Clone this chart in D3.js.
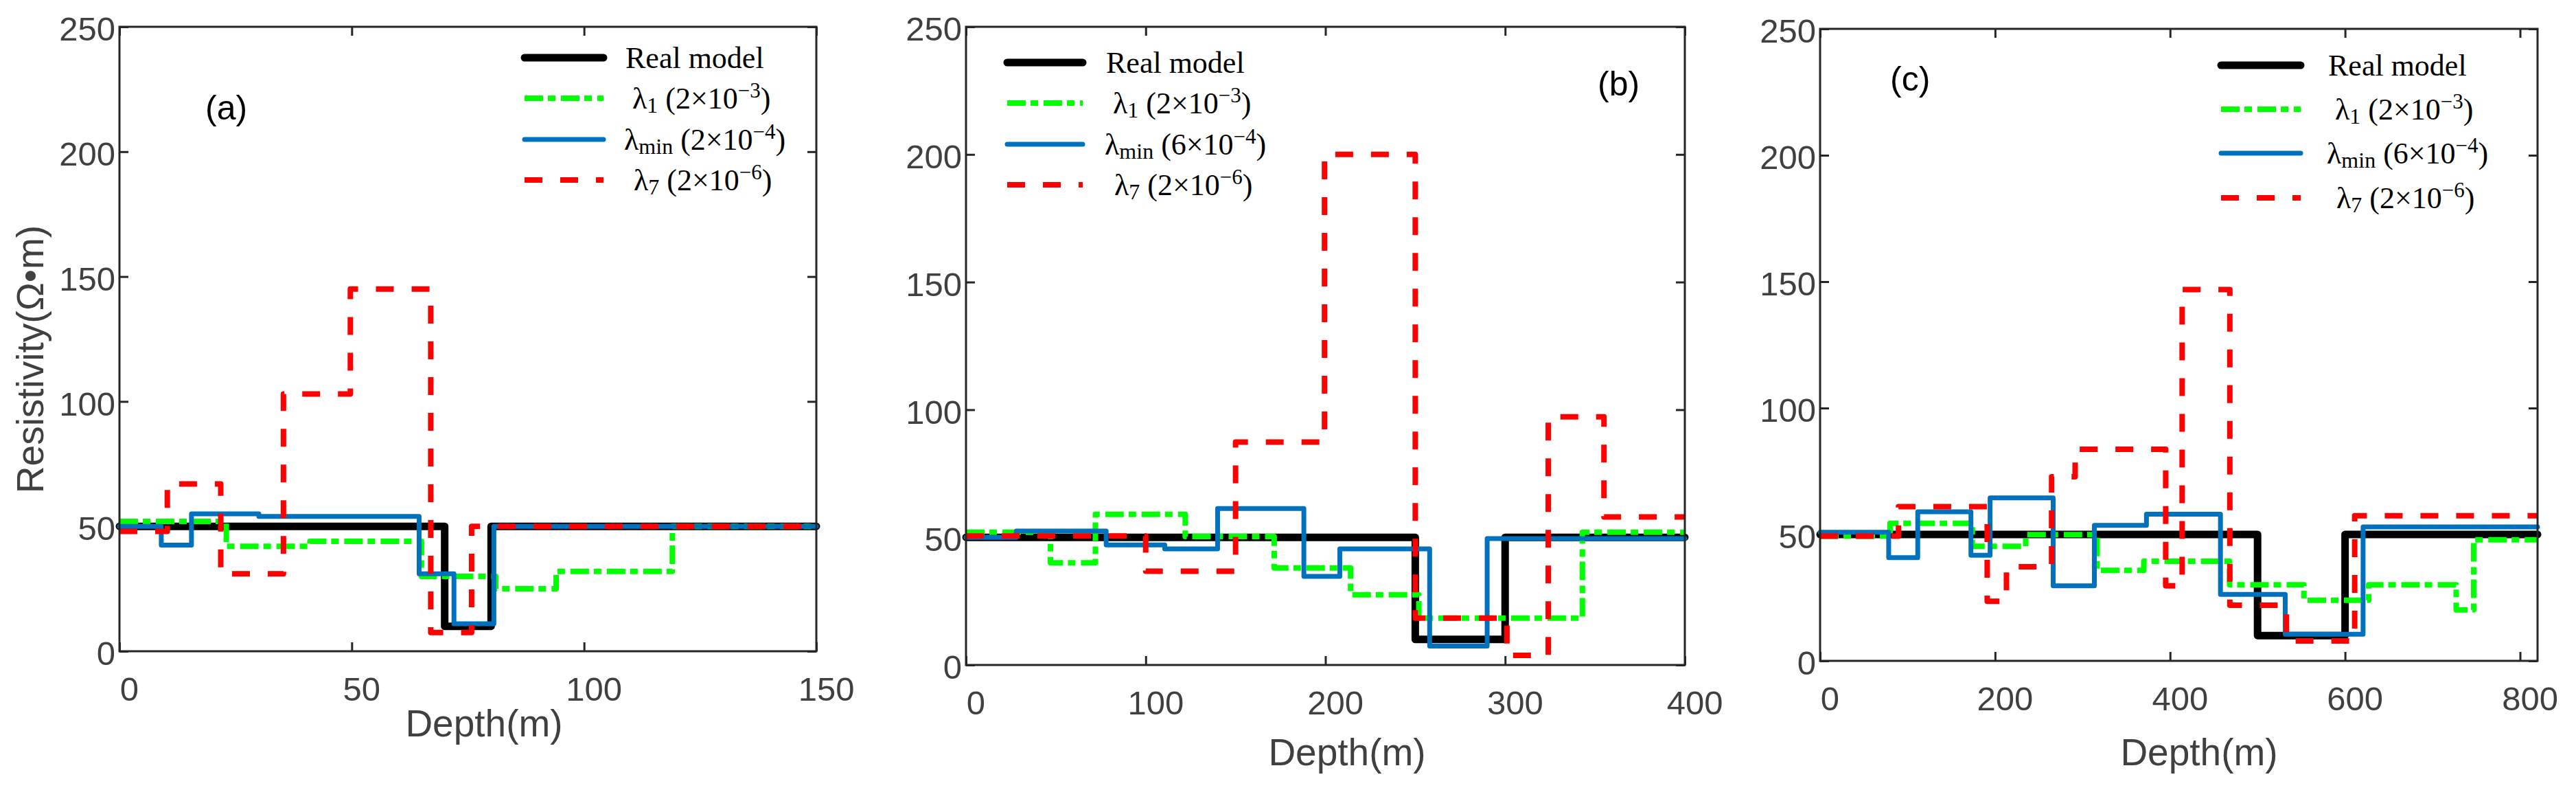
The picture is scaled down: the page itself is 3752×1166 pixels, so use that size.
<!DOCTYPE html>
<html>
<head>
<meta charset="utf-8">
<script src="https://cdn.jsdelivr.net/npm/d3@7"></script>
<style>
  body { margin: 0; background: #fff; }
  svg { display: block; }
</style>
</head>
<body>
<svg id="chart"></svg>
<script>
// tick values
const yTicks = [0, 50, 100, 150, 200, 250];
const xTicksA = [0, 50, 100, 150];
const xTicksB = [0, 100, 200, 300, 400];
const xTicksC = [0, 200, 400, 600, 800];

// layer boundaries (m) and layer resistivity (ohm.m)
// (a)
const depthRealA = [0, 70, 80, 150];
const rhoRealA = [50, 10, 50];
const depthL1A = [0, 23, 41, 65, 81, 94, 119, 150];
const rhoL1A = [52, 42, 44, 30, 25, 32, 50];
const depthMinA = [0, 9, 15.5, 30, 64.5, 72, 80.6, 150];
const rhoMinA = [50, 42.5, 55, 54, 31, 11, 50];
const depthL7A = [0, 10.3, 21.8, 35.3, 49.7, 67, 75.8, 150];
const rhoL7A = [48, 67, 31, 103, 145, 7.5, 50];

// (b)
const depthRealB = [0, 250, 300, 400];
const rhoRealB = [50, 10, 50];
const depthL1B = [0, 47, 72, 122, 171.5, 214, 252, 343, 400];
const rhoL1B = [52, 40, 59, 50.3, 38, 27.5, 18.4, 52];
const depthMinB = [0, 28, 78, 110.6, 140, 188, 208, 258, 290, 400];
const rhoMinB = [50, 52.5, 47, 45.5, 61.3, 34.7, 45.5, 7.4, 49.5];
const depthL7B = [0, 100, 150, 199.5, 250, 301, 324, 355, 400];
const rhoL7B = [50.5, 36.7, 87.3, 200, 18.4, 3.8, 97.2, 58];

// (c)
const depthRealC = [0, 500, 600, 820];
const rhoRealC = [50, 10, 50];
const depthL1C = [0, 80, 174, 235, 316.6, 370, 468, 553, 627, 727, 747, 820];
const rhoL1C = [49.3, 54.4, 45.3, 49.9, 35.8, 39.4, 30.1, 24, 30.1, 20.2, 47.9];
const depthMinC = [0, 78.4, 111.6, 172.4, 194.3, 266.4, 313.5, 373, 457.6, 531.6, 620.6, 820];
const rhoMinC = [50.9, 40.8, 59, 41.8, 64.5, 29.7, 53.6, 58, 26.3, 10.5, 53];
const depthL7C = [0, 89.6, 191, 213, 264.6, 291.5, 395, 413.8, 468.3, 533, 611, 820];
const rhoL7C = [49.3, 61, 23.6, 37.2, 72.8, 83.7, 29.7, 146.9, 22, 7.9, 57.4];

// legend entries
const lambdaSubs = ['1', 'min', '7'];
const legendMantA = [2, 2, 2];
const legendMantB = [2, 6, 2];
const legendMantC = [2, 6, 2];
const legendExp = [-3, -4, -6];

const seriesStyles = [
    { color: '#000000', width: 11, dash: null },
    { color: '#00ff00', width: 8, dash: '27,7,11,8' },
    { color: '#0072bd', width: 7, dash: null },
    { color: '#ff0000', width: 8, dash: '26,26' }
];

const panels = [
    {
        tag: '(a)', left: 174, right: 1189, top: 39, bottom: 948, xMax: 150, xTicks: xTicksA,
        series: [[depthRealA, rhoRealA], [depthL1A, rhoL1A], [depthMinA, rhoMinA], [depthL7A, rhoL7A]],
        mant: legendMantA,
        legend: { x0: 764, x1: 879, gap: 32, rows: [84, 143, 203, 262] },
        tagPos: [299, 174], xLabelPos: [705, 1072], yLabel: true
    },
    {
        tag: '(b)', left: 1407, right: 2454, top: 39, bottom: 968, xMax: 400, xTicks: xTicksB,
        series: [[depthRealB, rhoRealB], [depthL1B, rhoL1B], [depthMinB, rhoMinB], [depthL7B, rhoL7B]],
        mant: legendMantB,
        legend: { x0: 1467, x1: 1577, gap: 34, rows: [91, 150, 210, 269] },
        tagPos: [2327, 139], xLabelPos: [1962, 1114], yLabel: false
    },
    {
        tag: '(c)', left: 2651, right: 3696, top: 42, bottom: 962, xMax: 820, xTicks: xTicksC,
        series: [[depthRealC, rhoRealC], [depthL1C, rhoL1C], [depthMinC, rhoMinC], [depthL7C, rhoL7C]],
        mant: legendMantC,
        legend: { x0: 3235, x1: 3351, gap: 40, rows: [95, 159, 223, 288] },
        tagPos: [2753, 132], xLabelPos: [3203, 1114], yLabel: false
    }
];

// small per-row nudges of the legend text, as in the original figure
const legendTextShift = [0, 10, -2, 12];

const SANS = '"Liberation Sans", Arial, sans-serif';
const SERIF = '"Liberation Serif", "Times New Roman", serif';
const TICK_LEN = 13;

const svg = d3.select('#chart')
    .attr('width', 3752)
    .attr('height', 1166);

function stairPoints(depth, rho) {
    // one point per layer top, plus the bottom of the last layer
    return depth.map((d, i) => [d, rho[Math.min(i, rho.length - 1)]]);
}

function styleAxis(g) {
    g.select('.domain').remove();
    g.selectAll('.tick line').attr('stroke', '#262626').attr('stroke-width', 3);
    g.selectAll('.tick text')
        .attr('fill', '#404040')
        .style('font-family', SANS)
        .style('font-size', '49px');
}

panels.forEach(p => {
    const x = d3.scaleLinear().domain([0, p.xMax]).range([p.left, p.right]);
    const y = d3.scaleLinear().domain([0, 250]).range([p.bottom, p.top]);
    const g = svg.append('g');

    // axes, ticks pointing inward on all four sides
    g.append('g')
        .attr('transform', 'translate(0,' + p.bottom + ')')
        .call(d3.axisBottom(x).tickValues(p.xTicks).tickFormat(d3.format('d'))
            .tickSizeInner(-TICK_LEN).tickSizeOuter(0).tickPadding(37))
        .call(styleAxis)
        .selectAll('.tick text').attr('x', 14);

    g.append('g')
        .attr('transform', 'translate(' + p.left + ',0)')
        .call(d3.axisLeft(y).tickValues(yTicks).tickFormat(d3.format('d'))
            .tickSizeInner(-TICK_LEN).tickSizeOuter(0).tickPadding(6))
        .call(styleAxis)
        .selectAll('.tick text').attr('y', 4);

    g.append('g')
        .attr('transform', 'translate(0,' + p.top + ')')
        .call(d3.axisTop(x).tickValues(p.xTicks).tickFormat('')
            .tickSizeInner(-TICK_LEN).tickSizeOuter(0))
        .call(styleAxis);

    g.append('g')
        .attr('transform', 'translate(' + p.right + ',0)')
        .call(d3.axisRight(y).tickValues(yTicks).tickFormat('')
            .tickSizeInner(-TICK_LEN).tickSizeOuter(0))
        .call(styleAxis);

    // data lines
    const line = d3.line()
        .x(d => x(d[0]))
        .y(d => y(d[1]))
        .curve(d3.curveStepAfter);

    p.series.forEach((s, i) => {
        const st = seriesStyles[i];
        g.append('path')
            .datum(stairPoints(s[0], s[1]))
            .attr('d', line)
            .attr('fill', 'none')
            .attr('stroke', st.color)
            .attr('stroke-width', st.width)
            .attr('stroke-linejoin', 'round')
            .attr('stroke-linecap', st.dash ? 'butt' : 'round')
            .attr('stroke-dasharray', st.dash);
    });

    // box
    g.append('rect')
        .attr('x', p.left)
        .attr('y', p.top)
        .attr('width', p.right - p.left)
        .attr('height', p.bottom - p.top)
        .attr('fill', 'none')
        .attr('stroke', '#262626')
        .attr('stroke-width', 3);

    // legend
    const lg = g.append('g');
    p.legend.rows.forEach((ry, i) => {
        const st = seriesStyles[i];
        lg.append('line')
            .attr('x1', p.legend.x0)
            .attr('x2', p.legend.x1)
            .attr('y1', ry)
            .attr('y2', ry)
            .attr('stroke', st.color)
            .attr('stroke-width', st.width)
            .attr('stroke-linecap', st.dash ? 'butt' : 'round')
            .attr('stroke-dasharray', st.dash);

        const t = lg.append('text')
            .attr('x', p.legend.x1 + p.legend.gap + legendTextShift[i])
            .attr('y', ry + 15)
            .attr('fill', '#000')
            .style('font-family', SERIF)
            .style('font-size', '44px');

        if (i === 0) {
            t.text('Real model');
        } else {
            const k = i - 1;
            t.append('tspan').text('λ');
            t.append('tspan').attr('dy', 6).style('font-size', '32px').text(lambdaSubs[k]);
            t.append('tspan').attr('dy', -6).text(' (' + p.mant[k] + '×10');
            t.append('tspan').attr('dy', -16).style('font-size', '31px')
                .text('−' + Math.abs(legendExp[k]));
            t.append('tspan').attr('dy', 16).text(')');
        }
    });

    // panel tag
    g.append('text')
        .attr('x', p.tagPos[0])
        .attr('y', p.tagPos[1])
        .attr('fill', '#000')
        .style('font-family', SANS)
        .style('font-size', '50px')
        .text(p.tag);

    // axis titles
    g.append('text')
        .attr('x', p.xLabelPos[0])
        .attr('y', p.xLabelPos[1])
        .attr('text-anchor', 'middle')
        .attr('fill', '#404040')
        .style('font-family', SANS)
        .style('font-size', '55px')
        .text('Depth(m)');

    if (p.yLabel) {
        g.append('text')
            .attr('transform', 'translate(63,523) rotate(-90)')
            .attr('text-anchor', 'middle')
            .attr('fill', '#404040')
            .style('font-family', SANS)
            .style('font-size', '55px')
            .text('Resistivity(Ω•m)');
    }
});
</script>
</body>
</html>
